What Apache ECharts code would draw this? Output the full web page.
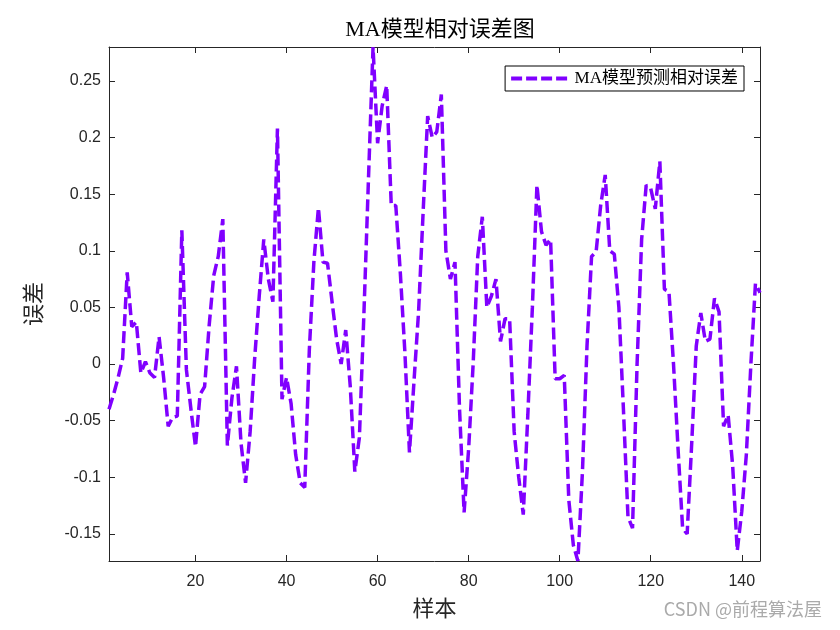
<!DOCTYPE html>
<html><head><meta charset="utf-8">
<script src="https://cdn.jsdelivr.net/npm/echarts@6/dist/echarts.min.js"></script>
<style>html,body{margin:0;padding:0;background:#fff}#c{width:840px;height:630px}</style>
</head><body><div id="c"></div>
<script>
const titleText = 'MA模型相对误差图';
const seriesName = 'MA模型预测相对误差';
const xName = '样本';
const yName = '误差';
const xTicks = [20, 40, 60, 80, 100, 120, 140];
const yTicks = [-0.15, -0.1, -0.05, 0, 0.05, 0.1, 0.15, 0.2, 0.25];
const errors = [
  -0.040, -0.027, -0.012, 0.005, 0.081, 0.033, 0.037, -0.008, 0.002, -0.008,
  -0.012, 0.024, -0.012, -0.055, -0.047, -0.046, 0.118, -0.005, -0.040, -0.073,
  -0.027, -0.020, 0.034, 0.078, 0.095, 0.128, -0.072, -0.030, -0.002, -0.070,
  -0.105, -0.060, 0.005, 0.060, 0.110, 0.075, 0.055, 0.208, -0.031, -0.012,
  -0.035, -0.080, -0.105, -0.109, 0.012, 0.090, 0.138, 0.090, 0.089, 0.055,
  0.022, 0.000, 0.030, -0.020, -0.095, -0.065, 0.045, 0.164, 0.280, 0.195,
  0.228, 0.246, 0.140, 0.140, 0.080, 0.010, -0.078, -0.015, 0.046, 0.134,
  0.219, 0.200, 0.205, 0.238, 0.100, 0.075, 0.090, -0.040, -0.131, -0.075,
  0.001, 0.095, 0.130, 0.050, 0.060, 0.075, 0.020, 0.040, 0.040, -0.060,
  -0.100, -0.133, -0.045, 0.050, 0.158, 0.117, 0.105, 0.110, -0.013, -0.013,
  -0.010, -0.120, -0.160, -0.174, -0.095, 0.016, 0.095, 0.099, 0.140, 0.167,
  0.100, 0.097, 0.050, -0.040, -0.135, -0.145, 0.000, 0.110, 0.158, 0.155,
  0.137, 0.179, 0.066, 0.064, 0.000, -0.075, -0.145, -0.150, -0.070, 0.016,
  0.045, 0.020, 0.022, 0.058, 0.046, -0.055, -0.045, -0.090, -0.165, -0.130,
  -0.080, 0.000, 0.071, 0.063
];
const samples = errors.map((_, i) => i + 1);

const axisColor = '#262626';
const serifCJK = "'Liberation Serif', 'Times New Roman', 'Noto Sans CJK SC', serif";
const chart = echarts.init(document.getElementById('c'), null, {renderer: 'canvas'});
const xMin = 1, xMax = 144, yMin = -0.174, yMax = 0.28;
const tickCommon = {show: true, inside: true, length: 6, lineStyle: {color: axisColor, width: 1}};
const dashIcon = 'path://M0,0h11v4h-11Z M15,0h11v4h-11Z M30,0h11v4h-11Z M45,0h11v4h-11Z';
chart.setOption({
  animation: false,
  backgroundColor: '#fff',
  title: {
    text: titleText, left: 435, top: 14, textAlign: 'center',
    textStyle: {fontFamily: serifCJK, fontWeight: 'normal', fontSize: 22, color: '#000'}
  },
  legend: {
    right: 96, top: 66, orient: 'horizontal',
    backgroundColor: '#fff', borderColor: '#000', borderWidth: 1, borderRadius: 0,
    padding: [4, 6, 4, 6], itemWidth: 57, itemHeight: 4, itemGap: 4,
    icon: dashIcon,
    itemStyle: {color: '#8000ff'},
    textStyle: {fontFamily: serifCJK, fontSize: 17, color: '#000', padding: [0, 0, 0, 2]},
    data: [seriesName]
  },
  grid: {left: 109, top: 47, right: 80, bottom: 69, containLabel: false},
  xAxis: [{
    type: 'value', min: xMin, max: xMax, position: 'bottom',
    name: xName, nameLocation: 'middle', nameGap: 38,
    nameTextStyle: {fontFamily: serifCJK, fontSize: 22, color: axisColor},
    axisLine: {show: true, onZero: false, lineStyle: {color: axisColor, width: 1}},
    axisTick: Object.assign({customValues: xTicks}, tickCommon),
    axisLabel: {customValues: xTicks, margin: 13, fontFamily: "'Liberation Sans', Arial, sans-serif", fontSize: 16, color: axisColor},
    splitLine: {show: false}
  }, {
    type: 'value', min: xMin, max: xMax, position: 'top',
    axisLine: {show: true, onZero: false, lineStyle: {color: axisColor, width: 1}},
    axisTick: Object.assign({customValues: xTicks}, tickCommon),
    axisLabel: {show: false}, splitLine: {show: false}
  }],
  yAxis: [{
    type: 'value', min: yMin, max: yMax, position: 'left',
    name: yName, nameLocation: 'middle', nameGap: 63, nameRotate: 90,
    nameTextStyle: {fontFamily: serifCJK, fontSize: 22, color: axisColor},
    axisLine: {show: true, onZero: false, lineStyle: {color: axisColor, width: 1}},
    axisTick: Object.assign({customValues: yTicks}, tickCommon),
    axisLabel: {customValues: yTicks, margin: 8, fontFamily: "'Liberation Sans', Arial, sans-serif", fontSize: 16, color: axisColor},
    splitLine: {show: false}
  }, {
    type: 'value', min: yMin, max: yMax, position: 'right',
    axisLine: {show: true, onZero: false, lineStyle: {color: axisColor, width: 1}},
    axisTick: Object.assign({customValues: yTicks}, tickCommon),
    axisLabel: {show: false}, splitLine: {show: false}
  }],
  series: [{
    name: seriesName, type: 'line', xAxisIndex: 0, yAxisIndex: 0,
    data: samples.map((s, i) => [s, errors[i]]),
    showSymbol: false, symbol: 'none', smooth: false, clip: true,
    lineStyle: {color: '#8000ff', width: 3.5, type: [12, 5]},
    itemStyle: {color: '#8000ff'}
  }],
  graphic: [{
    type: 'text', right: 18, top: 600,
    style: {text: 'CSDN @前程算法屋', fontFamily: "'Noto Sans CJK SC', sans-serif", fontSize: 18, fill: '#aaaaaa'}
  }]
});
</script></body></html>
